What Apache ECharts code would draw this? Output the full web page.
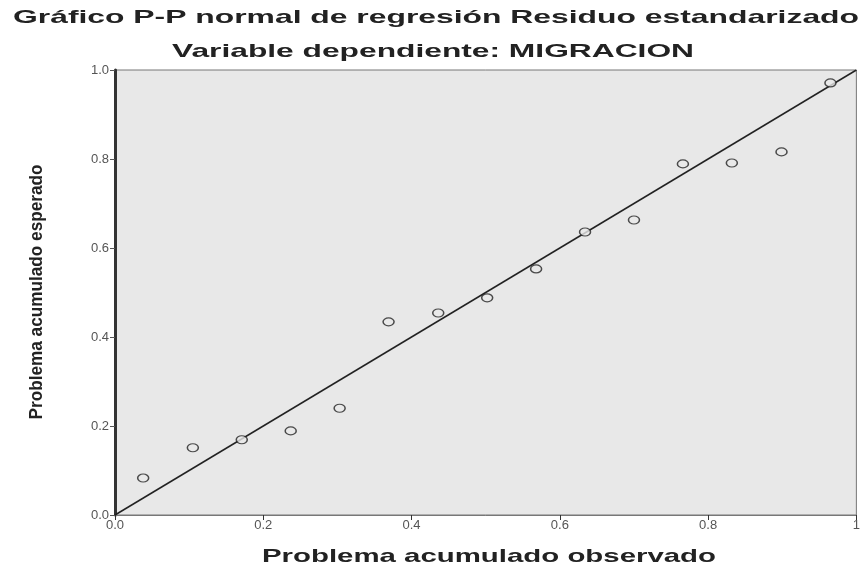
<!DOCTYPE html>
<html>
<head>
<meta charset="utf-8">
<script src="https://cdn.jsdelivr.net/npm/echarts@6/dist/echarts.min.js"></script>
<style>
  html, body { margin: 0; padding: 0; background: #fff; }
  #chart { width: 863px; height: 571px; }
</style>
</head>
<body>
<div id="chart"></div>
<script>
var observado = [0.038, 0.105, 0.171, 0.237, 0.303, 0.369, 0.436, 0.502, 0.568, 0.634, 0.700, 0.766, 0.832, 0.899, 0.965];
var esperado  = [0.083, 0.151, 0.169, 0.189, 0.240, 0.434, 0.454, 0.488, 0.553, 0.636, 0.663, 0.789, 0.791, 0.816, 0.971];
var diagonal = [[0, 0], [1, 1]];
var xTicks = ['0.0', '0.2', '0.4', '0.6', '0.8', '1'];
var yTicks = ['0.0', '0.2', '0.4', '0.6', '0.8', '1.0'];

var chart = echarts.init(document.getElementById('chart'));

var puntos = observado.map(function (v, i) {
    return [v, esperado[i]];
});

// el original esta estirado en horizontal: escalar el texto hasta el ancho medido
var ctx = document.createElement('canvas').getContext('2d');
function escala(texto, fuente, ancho) {
    ctx.font = fuente;
    return ancho / ctx.measureText(texto).width;
}

var fTitulo = 'bold 19px "Liberation Sans", Arial, sans-serif';
var fEje = 'bold 19px "Liberation Sans", Arial, sans-serif';
var titulo1 = 'Gráfico P-P normal de regresión Residuo estandarizado';
var titulo2 = 'Variable dependiente: MIGRACION';
var nombreX = 'Problema acumulado observado';
var nombreY = 'Problema acumulado esperado';

var option = {
    animation: false,
    graphic: [
        {
            type: 'text', x: 436, y: 18,
            scaleX: escala(titulo1, fTitulo, 846),
            style: { text: titulo1, font: fTitulo, fill: '#222', align: 'center', verticalAlign: 'middle' }
        },
        {
            type: 'text', x: 433, y: 52,
            scaleX: escala(titulo2, fTitulo, 522),
            style: { text: titulo2, font: fTitulo, fill: '#222', align: 'center', verticalAlign: 'middle' }
        },
        {
            type: 'text', x: 489, y: 557,
            scaleX: escala(nombreX, fEje, 454),
            style: { text: nombreX, font: fEje, fill: '#222', align: 'center', verticalAlign: 'middle' }
        },
        {
            type: 'text', x: 37, y: 292, rotation: Math.PI / 2,
            scaleX: escala(nombreY, fEje, 255),
            style: { text: nombreY, font: fEje, fill: '#222', align: 'center', verticalAlign: 'middle' }
        }
    ],
    grid: {
        left: 115, right: 2, top: 70, bottom: 56,
        show: true,
        backgroundColor: '#e8e8e8',
        borderColor: '#777',
        borderWidth: 1
    },
    xAxis: {
        type: 'value', min: 0, max: 1, interval: 0.2,
        splitLine: { show: false },
        axisLine: { show: true, lineStyle: { color: '#777', width: 1 } },
        axisTick: { show: true, length: 5, lineStyle: { color: '#333' } },
        axisLabel: {
            color: '#555', fontSize: 13, margin: 4,
            formatter: function (v) { return xTicks[Math.round(v / 0.2)]; }
        }
    },
    yAxis: {
        type: 'value', min: 0, max: 1, interval: 0.2,
        splitLine: { show: false },
        axisLine: { show: true, lineStyle: { color: '#333', width: 3 } },
        axisTick: { show: true, length: 5, lineStyle: { color: '#555' } },
        axisLabel: {
            color: '#555', fontSize: 13, margin: 6,
            formatter: function (v) { return yTicks[Math.round(v / 0.2)]; }
        }
    },
    series: [
        {
            type: 'line',
            data: diagonal,
            symbol: 'none',
            lineStyle: { color: '#222', width: 1.5 },
            z: 2
        },
        {
            type: 'scatter',
            data: puntos,
            symbol: 'circle',
            symbolSize: [11, 8],
            itemStyle: { color: '#e8e8e8', borderColor: '#222', borderWidth: 1.3 },
            z: 3
        }
    ]
};

chart.setOption(option);
</script>
</body>
</html>
